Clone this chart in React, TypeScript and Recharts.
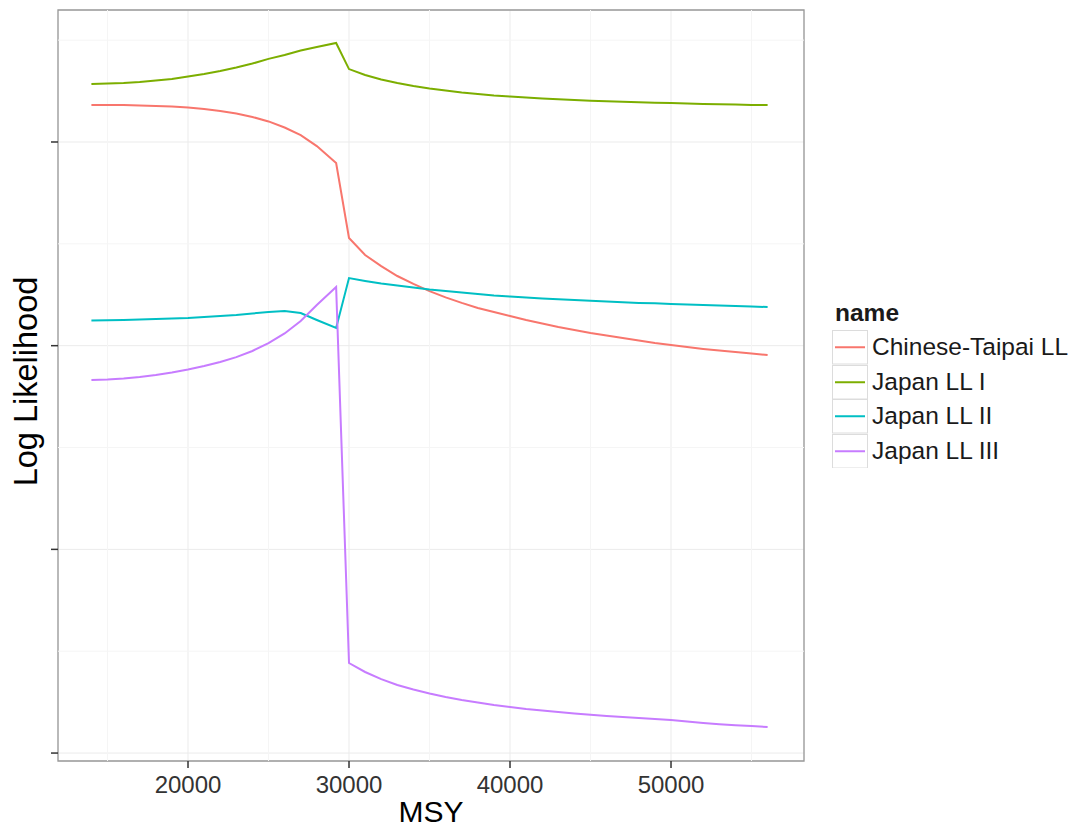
import React from 'react';
import {
  LineChart,
  Line,
  XAxis,
  YAxis,
  CartesianGrid,
  ReferenceLine,
  ReferenceArea,
  Label,
} from 'recharts';

// MSY grid (x values)
const msy = [
  14000, 15000, 16000, 17000, 18000, 19000, 20000, 21000, 22000, 23000, 24000,
  25000, 26000, 27000, 28000, 29200, 30000, 31000, 32000, 33000, 34000, 35000,
  36000, 37000, 38000, 39000, 40000, 41000, 42000, 43000, 44000, 45000, 46000,
  47000, 48000, 49000, 50000, 51000, 52000, 53000, 54000, 55000, 56000,
];

const chineseTaipai = [
  31.82, 31.82, 31.81, 31.79, 31.77, 31.74, 31.69, 31.62, 31.52, 31.4, 31.23,
  31.01, 30.71, 30.34, 29.8, 28.97, 25.29, 24.45, 23.91, 23.42, 23.03, 22.68,
  22.37, 22.1, 21.85, 21.65, 21.46, 21.26, 21.09, 20.92, 20.77, 20.62, 20.5,
  20.38, 20.25, 20.13, 20.03, 19.93, 19.84, 19.76, 19.69, 19.62, 19.54,
];

const japanI = [
  32.85, 32.87, 32.9, 32.95, 33.02, 33.09, 33.22, 33.34, 33.49, 33.66, 33.85,
  34.08, 34.27, 34.49, 34.66, 34.86, 33.58, 33.29, 33.07, 32.9, 32.75, 32.63,
  32.53, 32.43, 32.36, 32.28, 32.23, 32.19, 32.14, 32.1, 32.06, 32.03, 32.0,
  31.97, 31.95, 31.93, 31.91, 31.89, 31.87, 31.85, 31.84, 31.82, 31.81,
];

const japanII = [
  21.24, 21.25, 21.26, 21.28, 21.31, 21.33, 21.36, 21.41, 21.46, 21.51, 21.58,
  21.65, 21.7, 21.6, 21.26, 20.87, 23.32, 23.18, 23.05, 22.95, 22.86, 22.76,
  22.68, 22.61, 22.54, 22.46, 22.41, 22.37, 22.32, 22.28, 22.24, 22.2, 22.17,
  22.13, 22.1, 22.08, 22.05, 22.02, 22.0, 21.97, 21.95, 21.92, 21.9,
];

const japanIII = [
  18.31, 18.34, 18.39, 18.46, 18.56, 18.68, 18.83, 19.0, 19.2, 19.44, 19.74,
  20.13, 20.6, 21.21, 22.0, 22.88, 4.42, 3.98, 3.63, 3.34, 3.12, 2.92,
  2.75, 2.6, 2.48, 2.36, 2.26, 2.16, 2.09, 2.01, 1.94, 1.88, 1.82,
  1.77, 1.72, 1.67, 1.62, 1.55, 1.48, 1.42, 1.37, 1.33, 1.28,
];

const seriesNames = ['Chinese-Taipai LL', 'Japan LL I', 'Japan LL II', 'Japan LL III'];
const seriesColors = ['#F8766D', '#7CAE00', '#00BFC4', '#C77CFF'];
const seriesValues = [chineseTaipai, japanI, japanII, japanIII];

const xTicks = [20000, 30000, 40000, 50000];
const xMinor = [15000, 25000, 35000, 45000, 55000];
const yTicks = [0, 10, 20, 30];
const yMinor = [5, 15, 25, 35];

const X_DOMAIN: [number, number] = [11925, 58260];
const Y_DOMAIN: [number, number] = [-0.39, 36.48];

const data = msy.map((x, i) => {
  const row: Record<string, number> = { msy: x };
  seriesNames.forEach((n, s) => {
    row[n] = seriesValues[s][i];
  });
  return row;
});

const FONT = '"Liberation Sans", Arial, Helvetica, sans-serif';

// ggplot-style legend, drawn beside the panel
const NameLegend = () => (
  <div style={{ position: 'absolute', left: 824, top: 290, fontFamily: FONT, color: '#1a1a1a' }}>
    <div style={{ fontWeight: 'bold', fontSize: 24.5, height: 32, lineHeight: '30px', paddingLeft: 3 }}>
      name
    </div>
    {seriesNames.map((n, i) => (
      <div key={n} style={{ display: 'flex', alignItems: 'center', height: 34.5 }}>
        <svg width={36} height={34.5} style={{ display: 'block' }}>
          <rect x={0.5} y={0.5} width={35} height={33.5} fill="#fff" stroke="#dcdcdc" />
          <line x1={3} x2={33} y1={17.25} y2={17.25} stroke={seriesColors[i]} strokeWidth={2} />
        </svg>
        <span style={{ fontSize: 24.5, marginLeft: 4, whiteSpace: 'nowrap' }}>{n}</span>
      </div>
    ))}
  </div>
);

const YTitle = (props: any) => {
  const vb = props.viewBox || { x: 0, y: 2, width: 50, height: 751 };
  const cx = vb.x + 18;
  const cy = vb.y + vb.height / 2 - 4;
  return (
    <text
      x={cx}
      y={cy}
      transform={`rotate(-90 ${cx} ${cy})`}
      textAnchor="middle"
      dominantBaseline="central"
      fontFamily={FONT}
      fontSize={32.5}
      fill="#000"
    >
      Log Likelihood
    </text>
  );
};

export default function App() {
  return (
    <div style={{ position: 'relative', width: 1075, height: 824, background: '#fff' }}>
      <LineChart
        width={1075}
        height={824}
        data={data}
        margin={{ top: 2, right: 279, bottom: 0, left: 0 }}
      >
        <CartesianGrid stroke="#ebebeb" strokeWidth={1} />
        {xMinor.map((v) => (
          <ReferenceLine key={'xm' + v} x={v} stroke="#f5f5f5" strokeWidth={1} />
        ))}
        {yMinor.map((v) => (
          <ReferenceLine key={'ym' + v} y={v} stroke="#f5f5f5" strokeWidth={1} />
        ))}
        <XAxis
          type="number"
          dataKey="msy"
          domain={X_DOMAIN}
          ticks={xTicks}
          allowDataOverflow
          height={71}
          axisLine={false}
          tickLine={{ stroke: '#333', strokeWidth: 1.5 }}
          tickSize={7}
          tickMargin={8}
          tick={{ fill: '#333', fontSize: 24, fontFamily: FONT }}
        >
          <Label
            value="MSY"
            position="insideBottom"
            offset={10}
            style={{ fontSize: 30, fontFamily: FONT, fill: '#000' }}
          />
        </XAxis>
        <YAxis
          type="number"
          domain={Y_DOMAIN}
          ticks={yTicks}
          allowDataOverflow
          width={50}
          axisLine={false}
          tickLine={{ stroke: '#333', strokeWidth: 1.5 }}
          tickSize={7}
          tickFormatter={() => ''}
        >
          <Label content={<YTitle />} />
        </YAxis>
        <ReferenceArea
          x1={X_DOMAIN[0]}
          x2={X_DOMAIN[1]}
          y1={Y_DOMAIN[0]}
          y2={Y_DOMAIN[1]}
          fill="none"
          fillOpacity={0}
          stroke="#999"
          strokeWidth={1.3}
        />
        {seriesNames.map((n, i) => (
          <Line
            key={n}
            type="linear"
            dataKey={n}
            name={n}
            stroke={seriesColors[i]}
            strokeWidth={2}
            dot={false}
            isAnimationActive={false}
          />
        ))}
      </LineChart>
      <NameLegend />
    </div>
  );
}
